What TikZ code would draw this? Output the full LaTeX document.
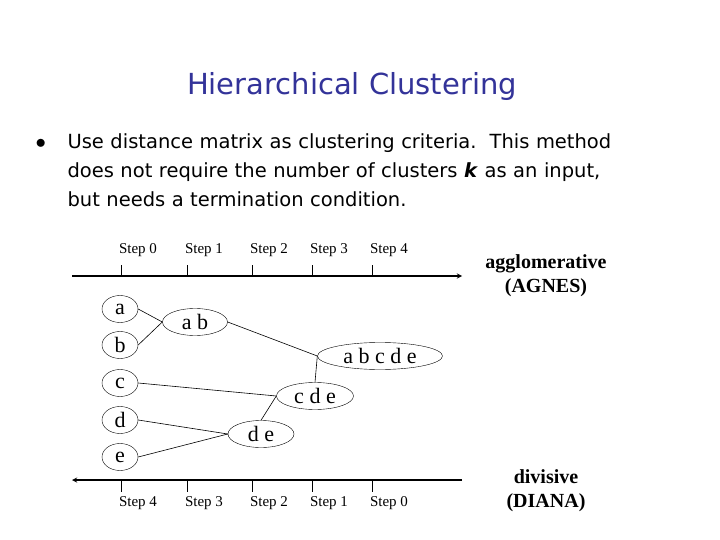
\documentclass[tikz,border=0pt]{standalone}
\usepackage{fontspec}
\usetikzlibrary{shapes.geometric}
\setmainfont{Liberation Serif}
\newfontfamily\tsans{DejaVu Sans}
\definecolor{titleblue}{RGB}{51,51,153}
\begin{document}
\begin{tikzpicture}[x=1pt,y=-1pt,
  el/.style={draw,ellipse,inner sep=0pt,minimum height=27pt,font=\fontsize{22}{24}\selectfont},
  lbl/.style={font=\fontsize{15}{17}\selectfont},
  big/.style={font=\bfseries\fontsize{20}{24}\selectfont,align=center},
  ln/.style={line width=0.6pt}]
\useasboundingbox (0,0) rectangle (720,540);
\node[text=titleblue,font=\tsans\fontsize{29}{32}\selectfont] (title) at (352,87) {Hierarchical Clustering};
\node[anchor=north west,font=\tsans\fontsize{19.5}{29}\selectfont,align=left,text width=640pt] (body) at (28,130)
 {\makebox[36pt][l]{\hspace{4pt}$\bullet$}Use distance matrix as clustering criteria.\ \ This method\\
 \hspace*{36pt}does not require the number of clusters \textbf{\textit{k}} as an input,\\
 \hspace*{36pt}but needs a termination condition.};
% axes
\coordinate (t0) at (72,276); \coordinate (t1) at (462,276);
\coordinate (b0) at (72,480); \coordinate (b1) at (462,480);
\draw[line width=1.3pt,-stealth] (t0) -- (t1);
\draw[line width=1.3pt,-stealth] (b1) -- (b0);
\foreach \x/\s/\r in {121/0/4,187/1/3,252/2/2,312/3/1,372/4/0}{
  \draw (\x,265) -- (\x,276);
  \draw (\x,480) -- (\x,492);
  \node[lbl] at (\x+17,250) {Step \s};
  \node[lbl] at (\x+17,503) {Step \r};
}
\node[big] (agg) at (546,276) {agglomerative\\(AGNES)};
\node[big] (div) at (546,491) {divisive\\(DIANA)};
% nodes
\node[el,minimum width=36pt] (a) at (120,309) {a};
\node[el,minimum width=36pt] (b) at (120,345) {b};
\node[el,minimum width=36pt] (c) at (120,383) {c};
\node[el,minimum width=36pt] (d) at (120,420) {d};
\node[el,minimum width=36pt] (e) at (120,457) {e};
\node[el,minimum width=65pt] (ab) at (195,322) {a b};
\node[el,minimum width=125pt] (abcde) at (380,356) {a b c d e};
\node[el,minimum width=77pt] (cde) at (315,396) {c d e};
\node[el,minimum width=66pt] (de) at (261,434) {d e};
\draw[ln] (a.east) -- (ab.west);
\draw[ln] (b.east) -- (ab.west);
\draw[ln] (ab.east) -- (abcde.west);
\draw[ln] (cde.north) -- (abcde.west);
\draw[ln] (c.east) -- (cde.west);
\draw[ln] (de.north) -- (cde.west);
\draw[ln] (d.east) -- (de.west);
\draw[ln] (e.east) -- (de.west);
\end{tikzpicture}
\end{document}
